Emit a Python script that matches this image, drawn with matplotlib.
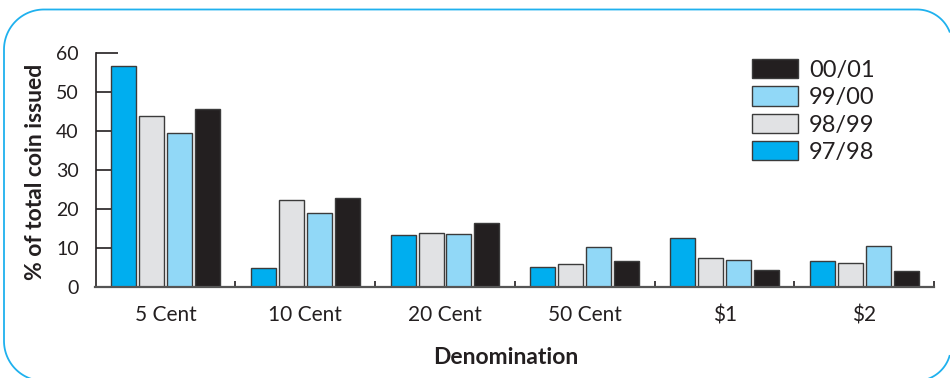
import matplotlib
matplotlib.use("Agg")
import matplotlib.pyplot as plt
from matplotlib.patches import Patch
import numpy as np

# Share of total coin issued, by denomination and financial year
categories = ["5 Cent", "10 Cent", "20 Cent", "50 Cent", "\\$1", "\\$2"]
years = ["97/98", "98/99", "99/00", "00/01"]
share_97_98 = [56.8, 5.0, 13.3, 5.3, 12.6, 6.8]
share_98_99 = [43.9, 22.4, 13.8, 5.9, 7.4, 6.3]
share_99_00 = [39.5, 19.0, 13.6, 10.3, 7.1, 10.7]
share_00_01 = [45.6, 23.0, 16.4, 6.7, 4.4, 4.2]
y_ticks = [0, 10, 20, 30, 40, 50, 60]

series = [share_97_98, share_98_99, share_99_00, share_00_01]
colors = ["#00aeef", "#e1e2e4", "#91d8f7", "#231f20"]
edge = "#3b3b3b"
text_color = "#231f20"
frame_blue = "#1fb1ee"

W, H = 950, 378
fig = plt.figure(figsize=(W / 100, H / 100), dpi=100)
fig.patch.set_facecolor("white")

# rounded panel frame in pixel units (y measured downward); the right
# side of the panel lies past the edge of the canvas, so only the parts
# of its corners inside the canvas are drawn
bg = fig.add_axes([0, 0, 1, 1], zorder=0)
bg.set_xlim(0, W)
bg.set_ylim(H, 0)
bg.set_axis_off()


def arc(cx, cy, r, t0, t1, n=40):
    t = np.radians(np.linspace(t0, t1, n))
    return cx + r * np.cos(t), cy + r * np.sin(t)


frame_kw = dict(color=frame_blue, linewidth=1.3, solid_capstyle="butt")
bl_x, bl_y = arc(44, 341, 40, 90, 180)
tl_x, tl_y = arc(44, 49.5, 40, 180, 270)
tr_x, tr_y = arc(917, 44.5, 35, 270, 340)
bg.plot(np.concatenate([bl_x, tl_x, tr_x]),
        np.concatenate([bl_y, tl_y, tr_y]), **frame_kw)
br_x, br_y = arc(916, 346, 35, 15, 90)
bg.plot(br_x, br_y, **frame_kw)

left, right = 95.5 / W, 934.3 / W
bottom, top = 1 - 287.3 / H, 1 - 53.3 / H
ax = fig.add_axes([left, bottom, right - left, top - bottom], zorder=1)
ax.patch.set_alpha(0)

x = np.arange(len(categories))
pitch = 0.2
width = 0.179
for k, (vals, col) in enumerate(zip(series, colors)):
    ax.bar(x + (k - 1.5) * pitch, vals, width=width, color=col,
           edgecolor=edge, linewidth=1.0, label=years[k], zorder=2)

ax.set_xlim(-0.5, len(categories) - 0.5)
ax.set_ylim(0, 60)

ax.spines["top"].set_visible(False)
ax.spines["right"].set_visible(False)
ax.spines["left"].set_color(text_color)
ax.spines["left"].set_linewidth(1.2)
ax.spines["bottom"].set_color("#555555")
ax.spines["bottom"].set_linewidth(1.6)

tick_font = "Lato"
ax.set_yticks(y_ticks)
ax.set_yticklabels([str(t) for t in y_ticks], fontsize=14, family=tick_font,
                   color=text_color)
ax.tick_params(axis="y", direction="in", length=11, width=1.2,
               color=text_color, pad=12)
# the top tick of the scale runs a little further in
ax.get_yticklines()[-2].set_markersize(16)

ax.set_xticks(x)
ax.set_xticklabels(categories, fontsize=15, family=tick_font, color=text_color)
ax.tick_params(axis="x", which="major", length=0, pad=13)
ax.set_xticks(np.arange(0.5, len(categories), 1.0), minor=True)
ax.tick_params(axis="x", which="minor", direction="in", length=4, width=1.2,
               color=text_color)

fig.text(36 / W, 1 - 172 / H, "% of total coin issued", rotation=90,
         ha="center", va="center", fontsize=16.5, fontweight="bold",
         family="Lato", color=text_color)
fig.text(506 / W, 1 - 357 / H, "Denomination", ha="center", va="center",
         fontsize=16.5, fontweight="bold", family="Lato", color=text_color)

handles = [Patch(facecolor=c, edgecolor=edge, linewidth=1.0) for c in colors]
leg = ax.legend(handles[::-1], years[::-1], loc="upper left",
                bbox_to_anchor=(752 / W, 1 - 59 / H),
                bbox_transform=fig.transFigure, frameon=False,
                prop={"family": "Lato", "size": 17},
                handlelength=1.95, handleheight=0.87, handletextpad=0.47,
                labelspacing=0.24, borderpad=0, borderaxespad=0)
for t in leg.get_texts():
    t.set_color(text_color)

fig.savefig("out.png", dpi=100, facecolor="white")
